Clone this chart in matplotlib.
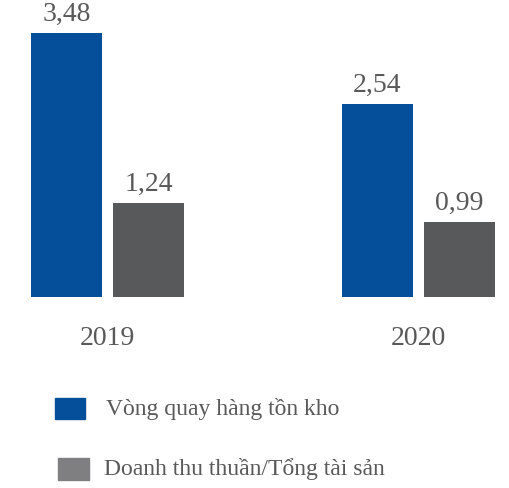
import matplotlib
matplotlib.use("Agg")
import matplotlib.pyplot as plt
from matplotlib.patches import Rectangle
import numpy as np

years = ["2019", "2020"]
series_names = ["Vòng quay hàng tồn kho", "Doanh thu thuần/Tổng tài sản"]
inventory_turnover = [3.48, 2.54]
asset_turnover = [1.24, 0.99]
labels_inv = ["3,48", "2,54"]
labels_asset = ["1,24", "0,99"]

BLUE = "#054F9A"
GREY = "#58595B"
GREY_LEG = "#7F7F81"
TXT = "#595959"
FONT = "Liberation Serif"

W, H = 509, 488
fig = plt.figure(figsize=(W / 100, H / 100), dpi=100)
base = 297  # px from top
ax = fig.add_axes([0, (H - base) / H, 1, base / H])
ax.set_ylim(0, base / 76.0)
ax.set_xlim(-107.5 / 311, (W - 107.5) / 311)
ax.axis("off")

x = np.arange(len(years))
bw = 71 / 311
off = 41 / 311
b1 = ax.bar(x - off, inventory_turnover, bw, color=BLUE)
b2 = ax.bar(x + off, asset_turnover, bw, color=GREY)

for bars, labs in ((b1, labels_inv), (b2, labels_asset)):
    for r, lab in zip(bars, labs):
        ax.annotate(lab, (r.get_x() + r.get_width() / 2, r.get_height()),
                    xytext=(0, 4), textcoords="offset points",
                    ha="center", va="bottom", fontsize=20, color=TXT,
                    family=FONT)

for xi, y in zip(x, years):
    ax.annotate(y, (xi, 0), xytext=(0, -21), textcoords="offset points",
                ha="center", va="top", fontsize=20, color=TXT, family=FONT)

# legend
def px(xp, yp):
    return xp / W, 1 - yp / H

for (x0, y0, w, h, c), name, tx, ty in (
        ((55, 398, 30, 21, BLUE), series_names[0], 106, 409),
        ((58, 458, 31, 22, GREY_LEG), series_names[1], 104, 469)):
    fx, fy = px(x0, y0 + h)
    fig.patches.append(Rectangle((fx, fy), w / W, h / H, transform=fig.transFigure,
                                 color=c, figure=fig))
    tx_, ty_ = px(tx, ty)
    fig.text(tx_, ty_, name, ha="left", va="center", fontsize=17,
             color=TXT, family=FONT)

fig.savefig("out.png", dpi=100)
